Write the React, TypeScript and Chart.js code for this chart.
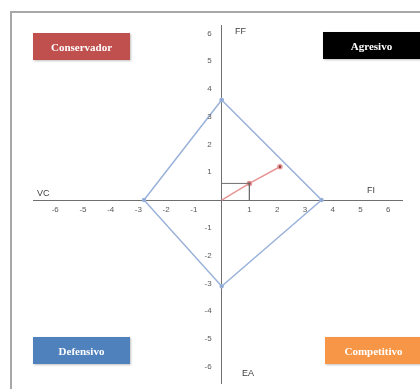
import React, { useEffect, useRef } from "react";
import { Chart, registerables } from "chart.js";

Chart.register(...registerables);

// Strategic position diamond (PEYEA-like matrix)
const diamondX = [0, 3.6, 0, -2.8, 0];
const diamondY = [3.6, 0, -3.1, 0, 3.6];
// Resulting vector
const vectorX = [0, 1, 2.1];
const vectorY = [0, 0.6, 1.2];
// Projection guide lines
const guideX = [0, 1, 1];
const guideY = [0.6, 0.6, 0];
// Axis ranges and tick labels
const xRange = [-6.8, 6.5];
const yRange = [-6.6, 6.3];
const tickValues = [-6, -5, -4, -3, -2, -1, 1, 2, 3, 4, 5, 6];
// Quadrant labels
const quadrants = [
  { text: "Conservador", color: "#C0504D", left: 33, top: 33 },
  { text: "Agresivo", color: "#000000", left: 323, top: 32 },
  { text: "Defensivo", color: "#4F81BD", left: 33, top: 337 },
  { text: "Competitivo", color: "#F79646", left: 325, top: 337 },
];
const axisNames = [
  { text: "VC", left: 37, top: 187 },
  { text: "FI", left: 367, top: 184 },
  { text: "FF", left: 235, top: 25 },
  { text: "EA", left: 242, top: 367 },
];

const toPts = (xs: number[], ys: number[]) => xs.map((x, i) => ({ x, y: ys[i] }));

const tickLabelPlugin = {
  id: "crossTickLabels",
  afterDraw(chart: any) {
    const { ctx, scales } = chart;
    const xs = scales.x;
    const ys = scales.y;
    const x0 = xs.getPixelForValue(0);
    const y0 = ys.getPixelForValue(0);
    ctx.save();
    ctx.font = "8px 'Liberation Sans', Arial, sans-serif";
    ctx.fillStyle = "#595959";
    ctx.textAlign = "center";
    ctx.textBaseline = "middle";
    tickValues.forEach((v) => {
      ctx.fillText(String(v), xs.getPixelForValue(v), y0 + 10);
    });
    ctx.textAlign = "right";
    tickValues.forEach((v) => {
      ctx.fillText(String(v), x0 - 10, ys.getPixelForValue(v));
    });
    ctx.restore();
  },
};

export default function App() {
  const ref = useRef<HTMLCanvasElement | null>(null);

  useEffect(() => {
    if (!ref.current) return;
    const chart = new Chart(ref.current, {
      type: "scatter",
      data: {
        datasets: [
          {
            data: toPts(diamondX, diamondY),
            showLine: true,
            borderColor: "#9AB2DA",
            backgroundColor: "#7F9CCF",
            borderWidth: 1.5,
            pointRadius: 1.5,
          },
          {
            data: toPts(guideX, guideY),
            showLine: true,
            borderColor: "#6E6E6E",
            borderWidth: 1,
            pointRadius: 0,
          },
          {
            data: toPts(vectorX, vectorY),
            showLine: true,
            borderColor: "#E79595",
            backgroundColor: "#8C3B3B",
            borderWidth: 1.5,
            pointRadius: [0, 2, 2],
          },
        ],
      },
      options: {
        animation: false,
        responsive: true,
        maintainAspectRatio: false,
        layout: { padding: { left: 33, right: 18, top: 25, bottom: 2 } },
        plugins: { legend: { display: false }, tooltip: { enabled: false } },
        scales: {
          x: {
            type: "linear",
            min: xRange[0],
            max: xRange[1],
            position: { y: 0 } as any,
            grid: { display: false, drawTicks: false, tickLength: 0 },
            border: { display: true, color: "#6F6F6F", width: 1 },
            ticks: { display: false },
          },
          y: {
            type: "linear",
            min: yRange[0],
            max: yRange[1],
            position: { x: 0 } as any,
            grid: { display: false, drawTicks: false, tickLength: 0 },
            border: { display: true, color: "#6F6F6F", width: 1 },
            ticks: { display: false },
          },
        },
      },
      plugins: [tickLabelPlugin],
    });
    return () => chart.destroy();
  }, []);

  return (
    <div style={{ position: "absolute", left: 0, top: 0, width: 420, height: 389, background: "#fff", overflow: "hidden" }}>
      <div
        style={{
          position: "absolute",
          left: 10,
          top: 11,
          width: 430,
          height: 400,
          borderTop: "2px solid #A8A8A8",
          borderLeft: "2px solid #A8A8A8",
        }}
      />
      <canvas ref={ref} style={{ position: "absolute", left: 0, top: 0 }} />
      {quadrants.map((q) => (
        <div
          key={q.text}
          style={{
            position: "absolute",
            left: q.left,
            top: q.top,
            width: 97,
            height: 27,
            background: q.color,
            color: "#fff",
            font: "bold 11px 'Liberation Serif', 'Times New Roman', serif",
            display: "flex",
            alignItems: "center",
            justifyContent: "center",
            boxShadow: "1px 1px 2px rgba(0,0,0,0.25)",
          }}
        >
          {q.text}
        </div>
      ))}
      {axisNames.map((a) => (
        <div
          key={a.text}
          style={{
            position: "absolute",
            left: a.left,
            top: a.top,
            font: "9px 'Liberation Sans', Arial, sans-serif",
            color: "#404040",
            lineHeight: "12px",
          }}
        >
          {a.text}
        </div>
      ))}
    </div>
  );
}
